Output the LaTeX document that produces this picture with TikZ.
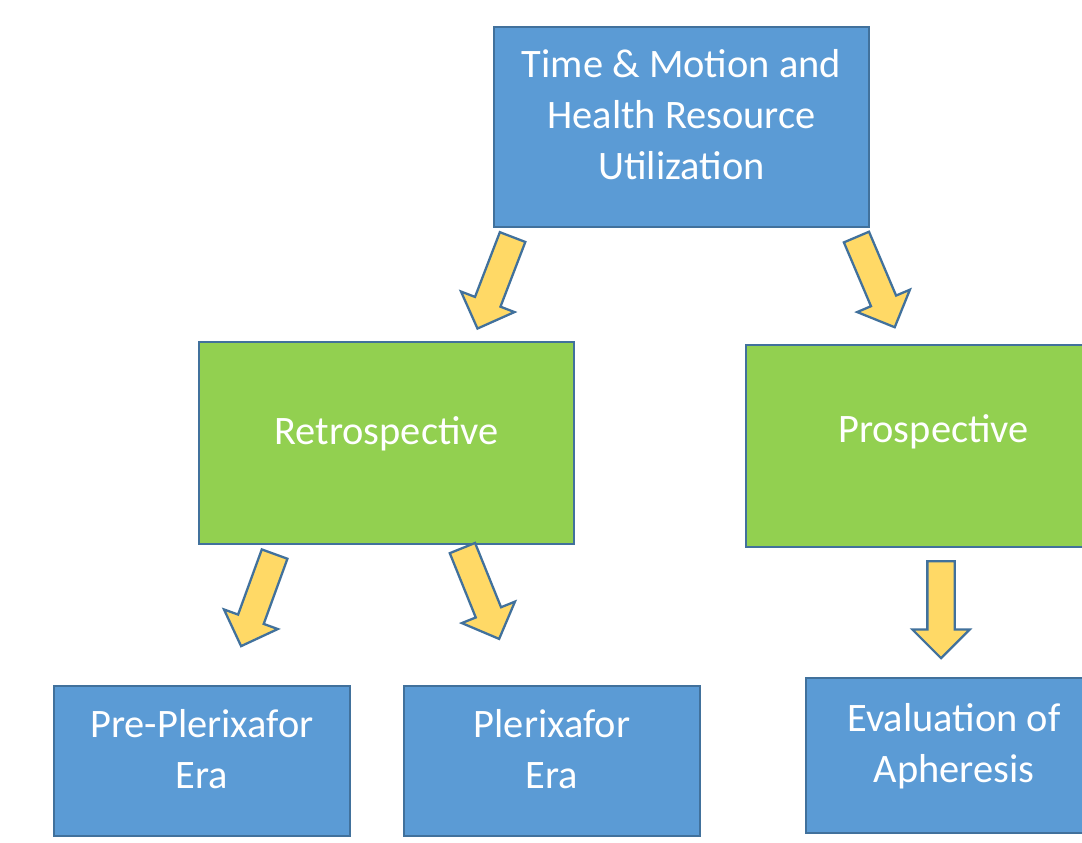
\documentclass[tikz,border=0pt]{standalone}
\usepackage{fontspec}
\setmainfont{Carlito}
\usepackage{xcolor}
\usetikzlibrary{shapes.arrows, positioning}
\definecolor{boxblue}{HTML}{5B9BD5}
\definecolor{boxgreen}{HTML}{92D050}
\definecolor{edgeblue}{HTML}{41719C}
\definecolor{arrowgold}{HTML}{FFD966}

\begin{document}
\begin{tikzpicture}[
  x=0.02cm, y=-0.02cm,
  box/.style={draw=edgeblue, line width=1.1pt, text=white, align=center,
              font=\fontsize{23pt}{29pt}\selectfont, inner sep=0pt,
              execute at end node={\rule[-14pt]{0pt}{0pt}}},
  bluebox/.style={box, fill=boxblue},
  greenbox/.style={box, fill=boxgreen},
  bigbox/.style={minimum width=7.5cm, minimum height=4.04cm},
  smallbox/.style={minimum width=5.92cm, minimum height=3cm},
  blockarrow/.style={single arrow, draw=edgeblue, line width=1.3pt,
                     fill=arrowgold, inner xsep=0pt, inner ysep=0.25cm,
                     minimum width=1.1cm, single arrow head extend=0.3cm,
                     minimum height=1.96cm, anchor=tail},
]
\fill[white] (0,0) rectangle (1082,842);
\useasboundingbox (0,0) rectangle (1082,842);
\clip (0,0) rectangle (1082,842);

% boxes
\node[bluebox, bigbox, minimum height=4cm] (hru) at (681.5,127)
  {Time \& Motion and\\Health Resource\\Utilization};
\node[greenbox, bigbox] (retro) at (386.5,443) {Retrospective};
\node[greenbox, bigbox, execute at end node={\rule[-20pt]{0pt}{0pt}}]
  (prosp) at (933.5,446) {Prospective};
\node[bluebox, smallbox] (pre) at (202,761) {Pre-Plerixafor\\Era};
\node[bluebox, smallbox] (pler) at (552,761) {Plerixafor\\Era};
\node[bluebox, smallbox, minimum height=3.1cm] (eval) at (954,755.5)
  {Evaluation of\\Apheresis};

% block arrows
\node[blockarrow, rotate=-111] (a1) at (513,236) {};
\node[blockarrow, rotate=-67] (a2) at (856,236) {};
\node[blockarrow, rotate=-110] (a3) at (275,553) {};
\node[blockarrow, rotate=-68] (a4) at (462,547) {};
\node[blockarrow, rotate=-90, minimum height=1.94cm] (a5) at (941,560) {};
\end{tikzpicture}
\end{document}
